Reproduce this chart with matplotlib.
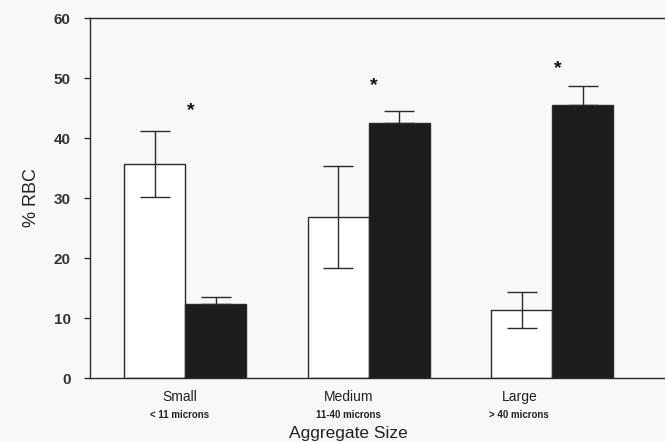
import matplotlib.pyplot as plt
import numpy as np

plt.rcParams['font.family'] = ['Liberation Sans', 'DejaVu Sans']

# data
groups = ['Small', 'Medium', 'Large']
sub_labels = ['< 11 microns', '11-40 microns', '> 40 microns']
white_vals = [35.7, 26.8, 11.3]
white_err = [5.5, 8.5, 3.0]
black_vals = [12.3, 42.5, 45.5]
black_err = [1.2, 2.0, 3.2]
star_y = [44.6, 48.8, 51.6]
label_pos = [-0.03, 0.89, 1.82]

x = np.arange(len(groups))
w = 0.333
line_c = '#2a2a2a'

fig = plt.figure(figsize=(6.65, 4.42), dpi=100, facecolor='#f8f8f6')
ax = fig.add_axes([90 / 665, 64 / 442, 600 / 665, 360 / 442])
ax.set_facecolor('#f8f8f6')

ax.bar(x - w / 2, white_vals, w, color='white', edgecolor=line_c, linewidth=1.0)
ax.errorbar(x - w / 2, white_vals, yerr=white_err, fmt='none', ecolor=line_c,
            elinewidth=1.0, capsize=11, capthick=1.0)
ax.bar(x + w / 2, black_vals, w, color='#1c1c1c', edgecolor=line_c, linewidth=1.0)
ax.errorbar(x + w / 2, black_vals, yerr=[np.zeros(3), black_err], fmt='none',
            ecolor=line_c, elinewidth=1.0, capsize=11, capthick=1.0)

for xi, yi in zip(x, star_y):
    ax.text(xi + 0.03, yi, '*', ha='center', va='center', fontsize=14,
            fontweight='bold', color='#111')

ax.set_xlim(-0.518, 2.75)
ax.set_ylim(0, 60)
ax.set_yticks(range(0, 61, 10))
ax.tick_params(axis='y', length=4, width=1, color=line_c, labelsize=11, pad=10)
for t in ax.get_yticklabels():
    t.set_fontweight('bold')
    t.set_color('#333')

ax.set_xticks(label_pos)
ax.set_xticklabels([''] * 3)
ax.tick_params(axis='x', length=0)
for p, g, s in zip(label_pos, groups, sub_labels):
    ax.text(p, -3.2, g, ha='center', va='center', fontsize=10, color='#222')
    ax.text(p, -6.2, s, ha='center', va='center', fontsize=7, fontweight='bold', color='#222')

ax.text(0.89, -9.2, 'Aggregate Size', ha='center', va='center', fontsize=12.5, color='#222')
ax.set_ylabel('% RBC', fontsize=13, color='#222', labelpad=10)

for sp in ['left', 'bottom', 'top']:
    ax.spines[sp].set_color(line_c)
    ax.spines[sp].set_linewidth(1.0)
ax.spines['right'].set_visible(False)

fig.savefig('out.png', dpi=100, facecolor=fig.get_facecolor())
